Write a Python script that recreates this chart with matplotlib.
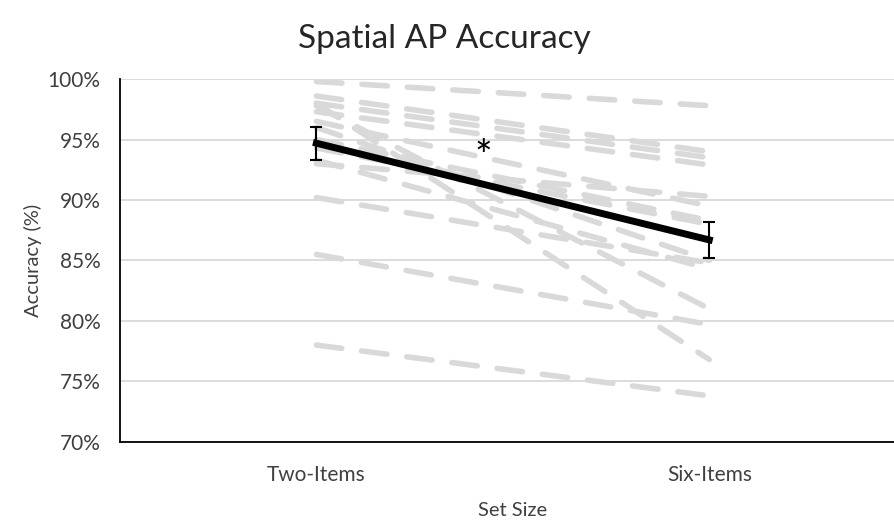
import numpy as np
import matplotlib.pyplot as plt
from matplotlib.ticker import PercentFormatter

plt.rcParams['font.family'] = ['Lato', 'DejaVu Sans']

# Set sizes and per-participant accuracy (%)
set_sizes = ['Two-Items', 'Six-Items']
two_items = [99.8, 98.6, 98.0, 97.3, 98.0, 97.8, 96.5, 96.0, 95.0, 94.3, 93.3, 93.0, 90.2, 85.5, 78.0]
six_items = [97.8, 94.0, 93.5, 92.9, 76.8, 81.0, 89.5, 85.0, 88.3, 88.0, 84.3, 90.3, 84.8, 79.7, 73.8]

# Group mean and error
mean_acc = [94.7, 86.7]
err_acc = [1.35, 1.5]

y_ticks = [70, 75, 80, 85, 90, 95, 100]

fig = plt.figure(figsize=(8.95, 5.31), dpi=100)
ax = fig.add_axes([0.134, 0.168, 0.878, 0.683])

x = np.arange(len(set_sizes))

for a, b in zip(two_items, six_items):
    ax.plot(x, [a, b], color='#d9d9d9', lw=4.0, linestyle=(0, (4.6, 3.6)),
            dash_capstyle='round', zorder=2)

ax.errorbar(x, mean_acc, yerr=err_acc, color='black', lw=5, capsize=4,
            elinewidth=1.5, capthick=1.5, zorder=3)

ax.text(0.425, 93.5, '*', fontsize=30, ha='center', va='center', color='black')

ax.set_xlim(-0.5, 1.5)
ax.set_ylim(70, 100)
ax.set_xticks(x)
ax.set_xticklabels(set_sizes)
ax.set_yticks(y_ticks)
ax.yaxis.set_major_formatter(PercentFormatter(decimals=0))
ax.tick_params(length=0, labelsize=15, colors='#404040', pad=14)
ax.tick_params(axis='x', pad=17)

ax.grid(axis='y', color='#d9d9d9', lw=1.3, zorder=0)
ax.set_axisbelow(True)
for side in ['top', 'right']:
    ax.spines[side].set_visible(False)
for side in ['left', 'bottom']:
    ax.spines[side].set_color('black')
    ax.spines[side].set_linewidth(1.3)

ax.set_xlabel('Set Size', fontsize=14.5, color='#404040', labelpad=12)
ax.set_ylabel('Accuracy (%)', fontsize=14.5, color='#404040', labelpad=4)
fig.suptitle('Spatial AP Accuracy', fontsize=24, color='#262626', x=0.497, y=0.955)

fig.savefig('out.png', dpi=100)
